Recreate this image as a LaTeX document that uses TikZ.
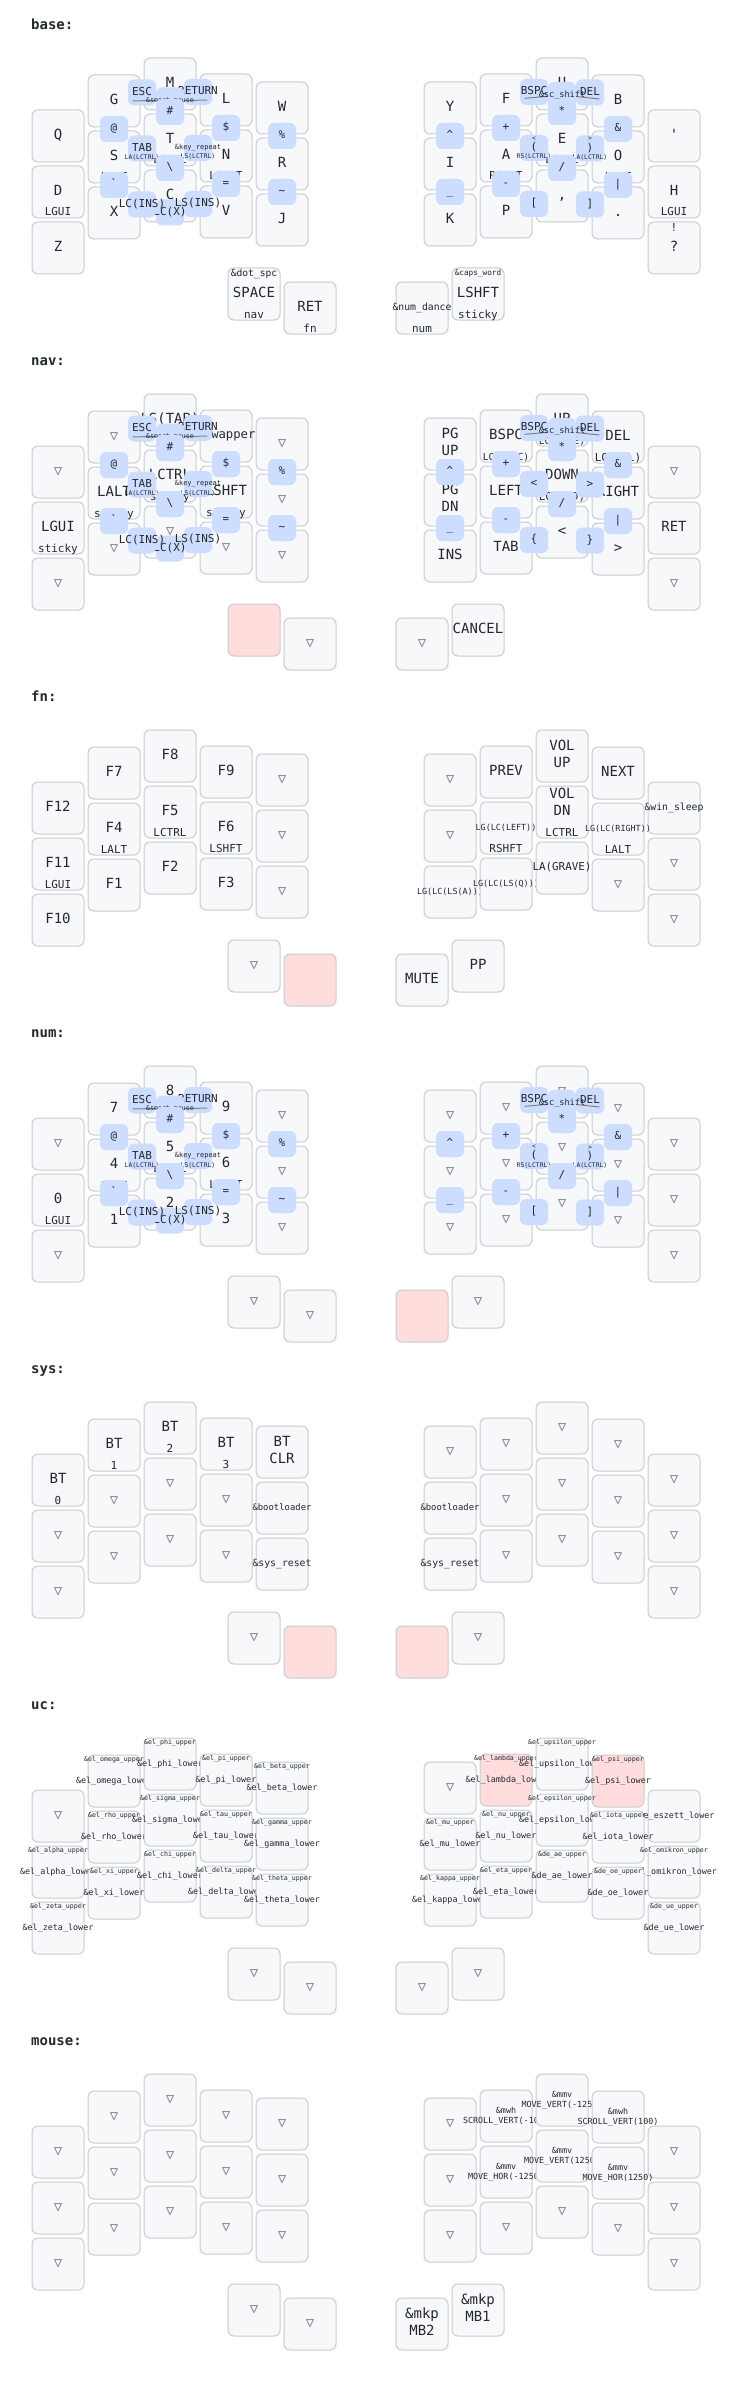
\documentclass[tikz,border=0pt]{standalone}
\usepackage{fontspec}
\setmonofont{DejaVu Sans Mono}
\usetikzlibrary{calc}

\definecolor{keyfill}{HTML}{F6F8FA}
\definecolor{keyline}{HTML}{C9CCCF}
\definecolor{heldfill}{HTML}{FFDDDD}
\definecolor{combofill}{HTML}{CCDDFF}
\definecolor{legendcol}{HTML}{24292E}
\definecolor{transcol}{HTML}{7B7E81}
\definecolor{dendroncol}{HTML}{808080}

\tikzset{
    keybox/.style={draw=keyline, fill=keyfill, line width=1pt, rounded corners=6pt,
        minimum width=52pt, minimum height=52pt, inner sep=0pt},
    held/.style={fill=heldfill},
    combobox/.style={fill=combofill, rounded corners=6pt,
        minimum width=28pt, minimum height=26pt, inner sep=0pt},
    legend/.style={inner sep=0pt, text=legendcol, font=\ttfamily},
    smalllegend/.style={legend, anchor=base, font=\ttfamily\fontsize{6.4}{7.7}\selectfont},
    dendron/.style={draw=dendroncol, line width=1pt},
    layerlabel/.style={anchor=mid west, inner sep=0pt, text=legendcol,
        font=\ttfamily\bfseries\fontsize{14}{17}\selectfont}
}

\newbox\lgdbox
\newlength\lgdw
\newlength\lgdh
\newcommand\lgdtab[1]{\begin{tabular}{@{}c@{}}#1\end{tabular}}
\newcommand\tns{\textcolor{transcol}{▽}}
\newcommand\uclo[2]{\&#1\_#2\_lower}
\newcommand\ucup[2]{\&#1\_#2\_upper}

% legends wider than 7 characters shrink, down to 60%
\newcommand\fitsize[2]{%
    \setbox\lgdbox\hbox{\pgfinterruptpicture
        \ttfamily\fontsize{10}{12}\selectfont\lgdtab{#2}\endpgfinterruptpicture}%
    \lgdw=\wd\lgdbox
    \lgdh=\ht\lgdbox \advance\lgdh by \dp\lgdbox
    \ifdim\lgdw>42.2pt
        \pgfmathsetmacro\lgdfs{#1*max(0.6,42.14/\lgdw)}%
    \else
        \def\lgdfs{#1}%
    \fi
    \pgfmathsetmacro\lgdfsb{1.2*\lgdfs}}

% #1 name, #2 x, #3 y, #4 extra style, #5 tap, #6 hold, #7 shifted
\newcommand\keycap[7]{%
    \node[keybox, #4] (#1) at (#2,#3) {};
    \fitsize{14}{#5}%
    \def\tapdy{0}%
    \if\relax\detokenize{#6}\relax\else
        \ifdim\lgdh>18pt \pgfmathsetmacro\tapdy{-0.5*\lgdfsb}\fi
    \fi
    \node[legend] (#1-tap) at ($(#1.center)+(0,\tapdy)$)
        {\fontsize{\lgdfs}{\lgdfsb}\selectfont\lgdtab{#5}};
    \if\relax\detokenize{#6}\relax\else
        \fitsize{11}{#6}%
        \node[legend, anchor=base] (#1-hold) at ($(#1.center)+(0,24)$)
            {\fontsize{\lgdfs}{\lgdfsb}\selectfont #6};
    \fi
    \if\relax\detokenize{#7}\relax\else
        \fitsize{11}{#7}%
        \node[legend, anchor=base] (#1-shift) at ($(#1.center)+(0,{0.72*\lgdfs-24})$)
            {\fontsize{\lgdfs}{\lgdfsb}\selectfont #7};
    \fi}

% #1 dendron keys, #2 name, #3 position, #4 tap, #5 hold, #6 shifted
\newcommand\combo[6][]{%
    \coordinate (#2) at #3;
    \if\relax\detokenize{#1}\relax\else
        \foreach \dk in {#1}{\draw[dendron] (#2) -- ($(\dk)!18.7pt!(#2)$);}%
    \fi
    \node[combobox] (#2-box) at (#2) {};
    \fitsize{11}{#4}%
    \node[legend] (#2-tap) at (#2) {\fontsize{\lgdfs}{\lgdfsb}\selectfont\lgdtab{#4}};
    \if\relax\detokenize{#5}\relax\else
        \node[smalllegend] (#2-hold) at ($(#2)+(0,11)$) {#5};
    \fi
    \if\relax\detokenize{#6}\relax\else
        \node[smalllegend] (#2-shift) at ($(#2)+(0,-7.5)$) {#6};
    \fi}

\newcommand\setlayer[3]{%
    \def\lyr{#1}\def\loff{#2}%
    \node[layerlabel] (#1-label) at (31,27+#2) {#3};}

% row: 0..2, legends tap/hold/shifted/style
\newcommand\keyrow[2]{%
    \foreach \kt/\kh/\ks/\kf [count=\kc from 0] in {#2}{%
        \pgfmathsetmacro\kx{{58,114,170,226,282,450,506,562,618,674}[\kc]}%
        \pgfmathsetmacro\ky{{136,101,84,100,108,108,100,84,101,136}[\kc]+56*#1+\loff}%
        \edef\keynext{\noexpand\keycap{\lyr#1\kc}{\kx}{\ky}{\kf}%
            {\unexpanded\expandafter{\kt}}{\unexpanded\expandafter{\kh}}{\unexpanded\expandafter{\ks}}}%
        \keynext}}

\newcommand\thumbrow[1]{%
    \foreach \kt/\kh/\ks/\kf [count=\kc from 0] in {#1}{%
        \pgfmathsetmacro\kx{{254,310,422,478}[\kc]}%
        \pgfmathsetmacro\ky{{294,308,308,294}[\kc]+\loff}%
        \edef\keynext{\noexpand\keycap{\lyr3\kc}{\kx}{\ky}{\kf}%
            {\unexpanded\expandafter{\kt}}{\unexpanded\expandafter{\kh}}{\unexpanded\expandafter{\ks}}}%
        \keynext}}

\newcommand\leftcombos[1]{%
    \combo{#1-esc}{($(#101)!.5!(#102)$)}{ESC}{}{}
    \combo{#1-return}{($(#102)!.5!(#103)$)}{RETURN}{}{}
    \combo[#101,#103]{#1-smart}{($(#101)!.5!(#103)$)}{\&smart\_mouse}{}{}
    \combo{#1-hash}{($(#102)!.5!(#112)$)}{\#}{}{}
    \combo{#1-at}{($(#101)!.5!(#111)$)}{@}{}{}
    \combo{#1-dollar}{($(#103)!.5!(#113)$)}{\$}{}{}
    \combo{#1-pct}{($(#104)!.5!(#114)$)}{\%}{}{}
    \combo{#1-tab}{($(#111)!.5!(#112)$)}{TAB}{LA(LCTRL)}{}
    \combo{#1-repeat}{($(#112)!.5!(#113)$)}{\&key\_repeat}{LS(LCTRL)}{}
    \combo{#1-bslash}{($(#112)!.5!(#122)$)}{\textbackslash}{}{}
    \combo{#1-grave}{($(#111)!.5!(#121)$)}{`}{}{}
    \combo{#1-equal}{($(#113)!.5!(#123)$)}{=}{}{}
    \combo{#1-tilde}{($(#114)!.5!(#124)$)}{\textasciitilde}{}{}
    \combo[#121,#123]{#1-cx}{($(#121)!.5!(#123)$)}{LC(X)}{}{}
    \combo{#1-cins}{($(#121)!.5!(#122)$)}{LC(INS)}{}{}
    \combo{#1-sins}{($(#122)!.5!(#123)$)}{LS(INS)}{}{}}

% #2-#4 and #5-#7: tap/hold/shifted of the two middle combos, #8 #9 the lower pair
\newcommand\rightcombos[9]{%
    \combo{#1-bspc}{($(#106)!.5!(#107)$)}{BSPC}{}{}
    \combo{#1-del}{($(#107)!.5!(#108)$)}{DEL}{}{}
    \combo[#106,#108]{#1-scshift}{(barycentric cs:#106=1,#107=1,#108=1)}{\&sc\_shift}{}{}
    \combo{#1-star}{($(#107)!.5!(#117)$)}{*}{}{}
    \combo{#1-plus}{($(#106)!.5!(#116)$)}{+}{}{}
    \combo{#1-amp}{($(#108)!.5!(#118)$)}{\&}{}{}
    \combo{#1-caret}{($(#105)!.5!(#115)$)}{\textasciicircum}{}{}
    \combo{#1-lparen}{($(#116)!.5!(#117)$)}{#2}{#3}{#4}
    \combo{#1-rparen}{($(#117)!.5!(#118)$)}{#5}{#6}{#7}
    \combo{#1-slash}{($(#117)!.5!(#127)$)}{/}{}{}
    \combo{#1-minus}{($(#116)!.5!(#126)$)}{-}{}{}
    \combo{#1-pipe}{($(#118)!.5!(#128)$)}{|}{}{}
    \combo{#1-under}{($(#115)!.5!(#125)$)}{\_}{}{}
    \combo{#1-lbrack}{($(#126)!.5!(#127)$)}{#8}{}{}
    \combo{#1-rbrack}{($(#127)!.5!(#128)$)}{#9}{}{}}

\begin{document}
\begin{tikzpicture}[x=1pt, y=-1pt]
    \fill[white] (0,0) rectangle (732,2408);
    \useasboundingbox (0,0) rectangle (732,2408);

    \setlayer{base}{0}{base:}
    \keyrow{0}{Q///, G///, M///, L///, W///, Y///, F///, U///, B///, '///}
    \keyrow{1}{D/LGUI//, S/LALT//, T/LCTRL//, N/LSHFT//, R///, I///, A/RSHFT//, E/LCTRL//, O/LALT//, H/LGUI//}
    \keyrow{2}{Z///, X///, C///, V///, J///, K///, P///, {,}///, .///, ?//!/}
    \thumbrow{SPACE/nav/\&dot\_spc/, RET/fn//, \&num\_dance/num//, LSHFT/sticky/\&caps\_word/}
    \leftcombos{base}
    \rightcombos{base}{(}{RS(LCTRL)}{<}{)}{LA(LCTRL)}{>}{[}{]}

    \setlayer{nav}{336}{nav:}
    \keyrow{0}{\tns///, \tns///, LS(TAB)///, \&swapper///, \tns///, PG\\UP///, BSPC/LC(BSPC)//, UP/LC(HOME)//, DEL/LC(DEL)//, \tns///}
    \keyrow{1}{LGUI/sticky//, LALT/sticky//, LCTRL/sticky//, LSHFT/sticky//, \tns///, PG\\DN///, LEFT///, DOWN/LC(END)//, RIGHT///, RET///}
    \keyrow{2}{\tns///, \tns///, \tns///, \tns///, \tns///, INS///, TAB///, <///, >///, \tns///}
    \thumbrow{///held, \tns///, \tns///, CANCEL///}
    \leftcombos{nav}
    \rightcombos{nav}{<}{}{}{>}{}{}{\{}{\}}

    \setlayer{fn}{672}{fn:}
    \keyrow{0}{F12///, F7///, F8///, F9///, \tns///, \tns///, PREV///, VOL\\UP///, NEXT///, \&win\_sleep///}
    \keyrow{1}{F11/LGUI//, F4/LALT//, F5/LCTRL//, F6/LSHFT//, \tns///, \tns///, LG(LC(LEFT))/RSHFT//, VOL\\DN/LCTRL//, LG(LC(RIGHT))/LALT//, \tns///}
    \keyrow{2}{F10///, F1///, F2///, F3///, \tns///, LG(LC(LS(A)))///, LG(LC(LS(Q)))///, LA(GRAVE)///, \tns///, \tns///}
    \thumbrow{\tns///, ///held, MUTE///, PP///}

    \setlayer{num}{1008}{num:}
    \keyrow{0}{\tns///, 7///, 8///, 9///, \tns///, \tns///, \tns///, \tns///, \tns///, \tns///}
    \keyrow{1}{0/LGUI//, 4/LALT//, 5/LCTRL//, 6/LSHFT//, \tns///, \tns///, \tns///, \tns///, \tns///, \tns///}
    \keyrow{2}{\tns///, 1///, 2///, 3///, \tns///, \tns///, \tns///, \tns///, \tns///, \tns///}
    \thumbrow{\tns///, \tns///, ///held, \tns///}
    \leftcombos{num}
    \rightcombos{num}{(}{RS(LCTRL)}{<}{)}{LA(LCTRL)}{>}{[}{]}

    \setlayer{sys}{1344}{sys:}
    \keyrow{0}{BT/0//, BT/1//, BT/2//, BT/3//, BT\\CLR///, \tns///, \tns///, \tns///, \tns///, \tns///}
    \keyrow{1}{\tns///, \tns///, \tns///, \tns///, \&bootloader///, \&bootloader///, \tns///, \tns///, \tns///, \tns///}
    \keyrow{2}{\tns///, \tns///, \tns///, \tns///, \&sys\_reset///, \&sys\_reset///, \tns///, \tns///, \tns///, \tns///}
    \thumbrow{\tns///, ///held, ///held, \tns///}

    \setlayer{uc}{1680}{uc:}
    \keyrow{0}{\tns///, \uclo{el}{omega}//\ucup{el}{omega}/, \uclo{el}{phi}//\ucup{el}{phi}/,
        \uclo{el}{pi}//\ucup{el}{pi}/, \uclo{el}{beta}//\ucup{el}{beta}/, \tns///,
        \uclo{el}{lambda}//\ucup{el}{lambda}/held, \uclo{el}{upsilon}//\ucup{el}{upsilon}/,
        \uclo{el}{psi}//\ucup{el}{psi}/held, \uclo{de}{eszett}///}
    \keyrow{1}{\uclo{el}{alpha}//\ucup{el}{alpha}/, \uclo{el}{rho}//\ucup{el}{rho}/,
        \uclo{el}{sigma}//\ucup{el}{sigma}/, \uclo{el}{tau}//\ucup{el}{tau}/,
        \uclo{el}{gamma}//\ucup{el}{gamma}/, \uclo{el}{mu}//\ucup{el}{mu}/,
        \uclo{el}{nu}//\ucup{el}{nu}/, \uclo{el}{epsilon}//\ucup{el}{epsilon}/,
        \uclo{el}{iota}//\ucup{el}{iota}/, \uclo{el}{omikron}//\ucup{el}{omikron}/}
    \keyrow{2}{\uclo{el}{zeta}//\ucup{el}{zeta}/, \uclo{el}{xi}//\ucup{el}{xi}/,
        \uclo{el}{chi}//\ucup{el}{chi}/, \uclo{el}{delta}//\ucup{el}{delta}/,
        \uclo{el}{theta}//\ucup{el}{theta}/, \uclo{el}{kappa}//\ucup{el}{kappa}/,
        \uclo{el}{eta}//\ucup{el}{eta}/, \uclo{de}{ae}//\ucup{de}{ae}/,
        \uclo{de}{oe}//\ucup{de}{oe}/, \uclo{de}{ue}//\ucup{de}{ue}/}
    \thumbrow{\tns///, \tns///, \tns///, \tns///}

    \setlayer{mouse}{2016}{mouse:}
    \keyrow{0}{\tns///, \tns///, \tns///, \tns///, \tns///, \tns///, \&mwh\\SCROLL\_VERT(-100)///,
        \&mmv\\MOVE\_VERT(-1250)///, \&mwh\\SCROLL\_VERT(100)///, \tns///}
    \keyrow{1}{\tns///, \tns///, \tns///, \tns///, \tns///, \tns///, \&mmv\\MOVE\_HOR(-1250)///,
        \&mmv\\MOVE\_VERT(1250)///, \&mmv\\MOVE\_HOR(1250)///, \tns///}
    \keyrow{2}{\tns///, \tns///, \tns///, \tns///, \tns///, \tns///, \tns///, \tns///, \tns///, \tns///}
    \thumbrow{\tns///, \tns///, \&mkp\\MB2///, \&mkp\\MB1///}
\end{tikzpicture}
\end{document}
